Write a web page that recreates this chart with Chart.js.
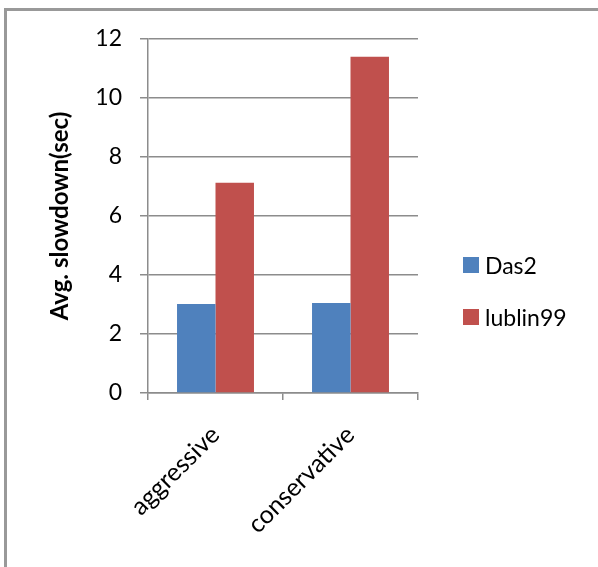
<!DOCTYPE html>
<html>
<head>
<meta charset="utf-8">
<script src="https://cdn.jsdelivr.net/npm/chart.js@4/dist/chart.umd.min.js"></script>
<style>
  body { margin: 0; background: #fff; }
  #wrap { position: relative; width: 598px; height: 567px; overflow: hidden; }
  #frame { position: absolute; left: 4px; top: 8px; width: 700px; height: 700px;
           border-left: 3px solid #999; border-top: 3px solid #999; }
  canvas { position: absolute; left: 0; top: 0; }
  .leg { position: absolute; left: 463px; font: 23px Lato, sans-serif; color: #000;
         display: flex; align-items: center; height: 24px; }
  .leg span.box { display: inline-block; width: 16px; height: 16px; margin-right: 6px; }
</style>
</head>
<body>
<div id="wrap">
  <div id="frame"></div>
  <canvas id="chart" width="598" height="567"></canvas>
  <div id="legend"></div>
</div>
<script>
const categories = ['aggressive', 'conservative'];
const seriesNames = ['Das2', 'lublin99'];
const das2Values = [3.02, 3.05];
const lublin99Values = [7.13, 11.4];
const seriesColors = ['#4F81BD', '#C0504D'];
const yTicks = [0, 2, 4, 6, 8, 10, 12];

document.addEventListener("DOMContentLoaded", () => {
    drawChart();
    buildLegend();
});

function drawChart() {
    const gridColor = '#8c8c8c';
    new Chart(document.getElementById('chart'), {
        type: 'bar',
        data: {
            labels: categories,
            datasets: [
                { label: seriesNames[0], data: das2Values, backgroundColor: seriesColors[0] },
                { label: seriesNames[1], data: lublin99Values, backgroundColor: seriesColors[1] }
            ]
        },
        options: {
            responsive: false,
            animation: false,
            categoryPercentage: 0.57,
            barPercentage: 1.0,
            layout: { padding: { left: 0, top: 39, right: 180, bottom: 0 } },
            plugins: { legend: { display: false }, tooltip: { enabled: false } },
            scales: {
                x: {
                    afterFit: (scale) => { scale.height = 174; },
                    grid: { drawOnChartArea: false, drawTicks: true, tickLength: 7,
                            color: gridColor, lineWidth: 1.5 },
                    border: { color: gridColor, width: 1.5 },
                    ticks: { minRotation: 45, maxRotation: 45, padding: 20,
                             color: '#000', font: { family: 'Lato', size: 25 } }
                },
                y: {
                    min: 0, max: 12,
                    afterFit: (scale) => { scale.width = 148; },
                    afterBuildTicks: (scale) => { scale.ticks = yTicks.map(v => ({ value: v })); },
                    grid: { color: gridColor, lineWidth: 1.5, tickLength: 8 },
                    border: { color: gridColor, width: 1.5 },
                    ticks: { padding: 18, color: '#000', font: { family: 'Lato', size: 23 } },
                    title: { display: true, text: 'Avg. slowdown(sec)', color: '#000',
                             padding: { top: 46, bottom: 0 },
                             font: { family: 'Lato', size: 24, weight: 'bold' } }
                }
            }
        }
    });
}

function buildLegend() {
    const legend = document.getElementById('legend');
    const tops = [253, 305];
    seriesNames.forEach((name, i) => {
        const item = document.createElement('div');
        item.className = 'leg';
        item.style.top = tops[i] + 'px';
        item.innerHTML = `<span class="box" style="background:${seriesColors[i]}"></span>${name}`;
        legend.appendChild(item);
    });
}
</script>
</body>
</html>
